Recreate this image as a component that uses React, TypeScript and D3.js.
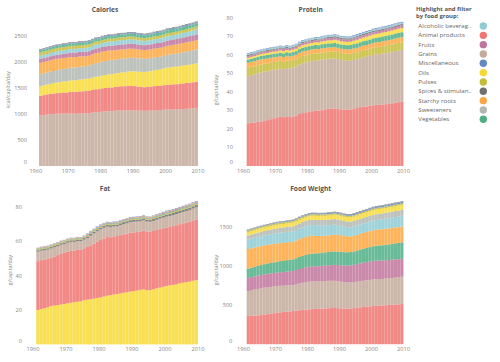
import * as d3 from "d3";

// years shown as bars
const years = [
  1961, 1962, 1963, 1964, 1965, 1966, 1967, 1968, 1969, 1970,
  1971, 1972, 1973, 1974, 1975, 1976, 1977, 1978, 1979, 1980,
  1981, 1982, 1983, 1984, 1985, 1986, 1987, 1988, 1989, 1990,
  1991, 1992, 1993, 1994, 1995, 1996, 1997, 1998, 1999, 2000,
  2001, 2002, 2003, 2004, 2005, 2006, 2007, 2008, 2009,
];
const xTicks = [1960, 1970, 1980, 1990, 2000, 2010];

const groups = [
  "Alcoholic beverages", "Animal products", "Fruits", "Grains", "Miscellaneous", "Oils",
  "Pulses", "Spices & stimulants", "Starchy roots", "Sweeteners", "Vegetables",
];
const legendLabels = [
  "Alcoholic beverag..", "Animal products", "Fruits", "Grains", "Miscellaneous", "Oils",
  "Pulses", "Spices & stimulan..", "Starchy roots", "Sweeteners", "Vegetables",
];
const groupColors = [
  "#8ecbd2", "#ef7672", "#c1749b", "#c4aa9c", "#6688c0", "#f7d936",
  "#c5bc3c", "#707070", "#fca741", "#b2b7b2", "#4fae84",
];

// ---- Calories (kcal/capita/day)
const calGrains = [
  975, 985, 995, 1000, 1005, 1010, 1008, 1012, 1010, 1015,
  1012, 1008, 1015, 1012, 1020, 1018, 1030, 1040, 1038, 1050,
  1055, 1062, 1060, 1068, 1072, 1075, 1072, 1078, 1075, 1072,
  1068, 1070, 1065, 1068, 1070, 1075, 1078, 1080, 1085, 1090,
  1088, 1092, 1090, 1098, 1100, 1105, 1108, 1115, 1122,
];
const calAnimal = [
  380, 383, 387, 390, 393, 398, 402, 406, 410, 415,
  418, 422, 425, 430, 433, 435, 438, 442, 446, 450,
  452, 455, 455, 458, 462, 465, 468, 470, 472, 470,
  465, 458, 455, 458, 462, 466, 468, 470, 475, 480,
  482, 485, 488, 490, 494, 497, 500, 502, 505,
];
const calOils = [
  185, 188, 192, 196, 200, 204, 208, 212, 216, 222,
  224, 226, 228, 230, 232, 236, 240, 242, 244, 246,
  250, 254, 258, 260, 262, 266, 270, 276, 280, 285,
  288, 290, 292, 296, 300, 305, 310, 315, 322, 330,
  335, 338, 340, 343, 346, 348, 350, 352, 355,
];
const calSweeteners = [
  230, 232, 230, 235, 236, 238, 240, 242, 244, 245,
  246, 248, 250, 246, 245, 252, 258, 262, 265, 268,
  270, 272, 270, 268, 268, 266, 265, 264, 262, 262,
  260, 258, 256, 255, 252, 250, 248, 246, 245, 245,
  246, 248, 250, 252, 255, 258, 262, 265, 268,
];
const calRoots = [
  222, 220, 218, 220, 222, 218, 215, 212, 210, 206,
  204, 200, 198, 196, 190, 188, 190, 192, 193, 193,
  190, 188, 186, 184, 182, 180, 178, 176, 175, 172,
  170, 168, 168, 168, 168, 170, 170, 172, 172, 174,
  175, 176, 178, 178, 180, 180, 180, 180, 182,
];
const calFruits = [
  75, 76, 77, 78, 79, 80, 81, 82, 83, 84,
  85, 85, 86, 86, 87, 88, 88, 89, 90, 90,
  91, 92, 92, 93, 94, 95, 96, 97, 97, 96,
  95, 95, 96, 97, 98, 99, 100, 101, 102, 103,
  104, 104, 105, 106, 107, 108, 108, 109, 110,
];
const calAlcohol = [
  60, 61, 62, 63, 64, 66, 67, 68, 69, 70,
  71, 72, 73, 74, 74, 75, 76, 77, 78, 79,
  80, 80, 81, 82, 83, 84, 84, 85, 85, 83,
  81, 80, 79, 80, 80, 81, 82, 82, 83, 84,
  85, 86, 87, 88, 89, 90, 91, 92, 93,
];
const calPulses = [
  65, 64, 64, 63, 63, 62, 62, 62, 61, 61,
  60, 60, 60, 59, 59, 58, 58, 58, 57, 57,
  57, 56, 56, 56, 56, 55, 55, 55, 55, 55,
  55, 55, 55, 55, 55, 55, 55, 55, 55, 55,
  55, 55, 55, 55, 55, 56, 56, 56, 56,
];
const calVeg = [
  40, 40, 41, 41, 42, 42, 43, 43, 44, 44,
  45, 45, 45, 46, 46, 47, 47, 48, 48, 49,
  49, 50, 50, 51, 51, 52, 52, 53, 53, 54,
  54, 55, 55, 56, 56, 57, 57, 58, 58, 59,
  59, 60, 60, 61, 61, 62, 62, 63, 63,
];
const calMisc = [
  15, 15, 15, 15, 15, 16, 16, 16, 16, 16,
  16, 16, 17, 17, 17, 17, 17, 17, 17, 18,
  18, 18, 18, 18, 18, 18, 18, 18, 19, 19,
  19, 19, 19, 19, 19, 19, 19, 19, 19, 20,
  20, 20, 20, 20, 20, 20, 20, 20, 20,
];
const calSpices = [
  12, 12, 12, 12, 12, 12, 12, 13, 13, 13,
  13, 13, 13, 13, 13, 13, 13, 14, 14, 14,
  14, 14, 14, 14, 14, 14, 14, 14, 14, 14,
  14, 14, 14, 14, 14, 15, 15, 15, 15, 15,
  15, 15, 15, 15, 16, 16, 16, 16, 16,
];

// ---- Protein (g/capita/day)
const protAnimal = [
  23.1, 23.3, 23.5, 23.8, 24.0, 24.4, 24.8, 25.3, 25.8, 26.3,
  26.5, 26.4, 26.6, 26.5, 26.7, 27.3, 28.1, 28.6, 29.0, 29.4,
  29.6, 29.8, 29.9, 30.2, 30.6, 30.8, 31.0, 31.1, 30.9, 30.6,
  30.5, 30.4, 30.6, 31.0, 31.4, 31.8, 32.0, 32.2, 32.5, 32.8,
  33.0, 33.1, 33.3, 33.4, 33.6, 33.9, 34.2, 34.5, 34.8,
];
const protGrains = [
  25.5, 25.8, 26.0, 26.3, 26.5, 26.6, 26.4, 26.3, 26.2, 26.0,
  26.1, 25.9, 26.3, 26.2, 26.5, 26.4, 26.7, 27.0, 26.9, 27.0,
  27.1, 27.3, 27.2, 27.3, 27.1, 27.2, 27.0, 27.1, 26.9, 26.7,
  26.6, 26.5, 26.4, 26.3, 26.3, 26.5, 26.7, 26.8, 27.0, 27.2,
  27.3, 27.4, 27.5, 27.6, 27.8, 27.8, 27.9, 27.9, 27.9,
];
const protPulses = [
  4.5, 4.5, 4.4, 4.4, 4.4, 4.3, 4.3, 4.3, 4.2, 4.2,
  4.2, 4.1, 4.1, 4.1, 4.0, 4.0, 4.0, 3.9, 3.9, 3.9,
  3.9, 3.8, 3.8, 3.8, 3.8, 3.8, 3.8, 3.8, 3.8, 3.8,
  3.8, 3.8, 3.8, 3.8, 3.8, 3.8, 3.9, 3.9, 3.9, 3.9,
  3.9, 3.9, 4.0, 4.0, 4.0, 4.0, 4.1, 4.1, 4.1,
];
const protRoots = [
  2.7, 2.7, 2.7, 2.7, 2.7, 2.6, 2.6, 2.6, 2.6, 2.5,
  2.5, 2.5, 2.5, 2.4, 2.4, 2.4, 2.4, 2.4, 2.4, 2.4,
  2.4, 2.4, 2.3, 2.3, 2.3, 2.3, 2.3, 2.3, 2.3, 2.3,
  2.3, 2.3, 2.3, 2.4, 2.4, 2.4, 2.5, 2.5, 2.5, 2.6,
  2.6, 2.6, 2.6, 2.7, 2.7, 2.7, 2.7, 2.8, 2.8,
];
const protVeg = [
  1.8, 1.8, 1.8, 1.8, 1.9, 1.9, 1.9, 1.9, 1.9, 1.9,
  2.0, 2.0, 2.0, 2.0, 2.0, 2.0, 2.0, 2.1, 2.1, 2.1,
  2.1, 2.1, 2.1, 2.2, 2.2, 2.2, 2.2, 2.2, 2.3, 2.3,
  2.3, 2.3, 2.3, 2.4, 2.4, 2.4, 2.4, 2.5, 2.5, 2.5,
  2.5, 2.6, 2.6, 2.6, 2.6, 2.7, 2.7, 2.7, 2.7,
];
const protOils = [
  0.9, 0.9, 1.0, 1.0, 1.0, 1.0, 1.1, 1.1, 1.1, 1.1,
  1.2, 1.2, 1.2, 1.2, 1.3, 1.3, 1.3, 1.3, 1.4, 1.4,
  1.4, 1.5, 1.5, 1.5, 1.6, 1.6, 1.6, 1.7, 1.7, 1.7,
  1.7, 1.8, 1.8, 1.8, 1.9, 1.9, 1.9, 2.0, 2.0, 2.0,
  2.1, 2.1, 2.1, 2.1, 2.2, 2.2, 2.2, 2.3, 2.3,
];
const protFruits = [
  0.9, 0.9, 0.9, 0.9, 0.9, 1.0, 1.0, 1.0, 1.0, 1.0,
  1.0, 1.0, 1.0, 1.0, 1.0, 1.1, 1.1, 1.1, 1.1, 1.1,
  1.1, 1.1, 1.1, 1.1, 1.2, 1.2, 1.2, 1.2, 1.2, 1.2,
  1.2, 1.2, 1.2, 1.2, 1.3, 1.3, 1.3, 1.3, 1.3, 1.3,
  1.3, 1.3, 1.4, 1.4, 1.4, 1.4, 1.4, 1.4, 1.4,
];
const protSpices = [
  0.6, 0.6, 0.6, 0.6, 0.6, 0.6, 0.6, 0.6, 0.6, 0.6,
  0.6, 0.6, 0.6, 0.6, 0.6, 0.6, 0.6, 0.6, 0.6, 0.6,
  0.6, 0.6, 0.6, 0.6, 0.6, 0.7, 0.7, 0.7, 0.7, 0.7,
  0.7, 0.7, 0.7, 0.7, 0.7, 0.7, 0.7, 0.7, 0.7, 0.7,
  0.7, 0.7, 0.7, 0.7, 0.7, 0.7, 0.7, 0.7, 0.7,
];
const protAlcohol = [
  0.6, 0.6, 0.6, 0.6, 0.6, 0.6, 0.6, 0.6, 0.6, 0.6,
  0.6, 0.6, 0.6, 0.6, 0.6, 0.6, 0.6, 0.6, 0.6, 0.6,
  0.7, 0.7, 0.7, 0.7, 0.7, 0.7, 0.7, 0.7, 0.7, 0.6,
  0.6, 0.6, 0.6, 0.6, 0.6, 0.6, 0.6, 0.6, 0.6, 0.7,
  0.7, 0.7, 0.7, 0.7, 0.7, 0.7, 0.7, 0.7, 0.7,
];
const protMisc = [
  0.4, 0.4, 0.4, 0.4, 0.4, 0.4, 0.4, 0.4, 0.4, 0.4,
  0.4, 0.4, 0.4, 0.4, 0.4, 0.4, 0.4, 0.4, 0.4, 0.4,
  0.4, 0.4, 0.4, 0.4, 0.4, 0.4, 0.4, 0.4, 0.4, 0.4,
  0.4, 0.4, 0.4, 0.5, 0.5, 0.5, 0.5, 0.5, 0.5, 0.5,
  0.5, 0.5, 0.5, 0.5, 0.5, 0.5, 0.5, 0.5, 0.5,
];

// ---- Fat (g/capita/day)
const fatOils = [
  20.0, 20.6, 21.0, 21.5, 22.3, 22.6, 22.9, 23.2, 23.5, 23.9,
  24.2, 24.5, 24.8, 25.0, 25.8, 26.0, 26.3, 26.6, 27.0, 27.3,
  27.8, 28.3, 28.7, 29.0, 29.3, 29.6, 30.0, 30.3, 30.7, 31.0,
  31.3, 31.7, 32.0, 31.5, 31.6, 32.0, 32.6, 33.0, 33.5, 34.0,
  34.3, 34.6, 35.0, 35.5, 35.9, 36.2, 36.5, 37.0, 37.4,
];
const fatAnimal = [
  28.4, 28.4, 28.3, 28.2, 28.1, 28.5, 29.0, 29.4, 29.7, 30.0,
  30.2, 30.0, 30.2, 30.0, 30.1, 30.6, 31.3, 32.0, 32.8, 33.4,
  33.8, 34.1, 33.6, 33.8, 33.7, 33.9, 34.0, 34.1, 34.2, 34.1,
  34.0, 33.9, 34.1, 34.0, 33.9, 33.9, 33.9, 34.0, 34.0, 34.0,
  34.1, 34.2, 34.3, 34.4, 34.5, 34.7, 34.9, 35.1, 35.3,
];
const fatGrains = [
  5.5, 5.5, 5.5, 5.4, 5.4, 5.4, 5.3, 5.3, 5.2, 5.2,
  5.2, 5.1, 5.1, 5.0, 5.0, 5.3, 5.6, 5.9, 6.0, 6.2,
  6.2, 6.1, 6.0, 5.8, 5.6, 5.8, 6.0, 6.1, 6.2, 6.2,
  6.1, 6.0, 6.0, 5.9, 5.8, 5.9, 6.0, 6.1, 6.2, 6.3,
  6.3, 6.4, 6.5, 6.5, 6.6, 6.7, 6.8, 6.9, 7.0,
];
const fatSpices = [
  0.8, 0.8, 0.8, 0.8, 0.8, 0.8, 0.8, 0.9, 0.9, 0.9,
  0.9, 0.9, 0.9, 0.9, 0.9, 0.9, 1.0, 1.0, 1.0, 1.0,
  1.0, 1.0, 1.0, 1.0, 1.1, 1.1, 1.1, 1.1, 1.1, 1.1,
  1.1, 1.1, 1.1, 1.1, 1.1, 1.2, 1.2, 1.2, 1.2, 1.2,
  1.2, 1.2, 1.2, 1.2, 1.3, 1.3, 1.3, 1.3, 1.3,
];
const fatPulses = [
  0.5, 0.5, 0.5, 0.5, 0.5, 0.5, 0.5, 0.5, 0.5, 0.5,
  0.5, 0.5, 0.5, 0.5, 0.5, 0.5, 0.5, 0.5, 0.5, 0.5,
  0.5, 0.5, 0.5, 0.5, 0.5, 0.5, 0.5, 0.5, 0.5, 0.5,
  0.5, 0.5, 0.5, 0.5, 0.5, 0.5, 0.5, 0.5, 0.5, 0.6,
  0.6, 0.6, 0.6, 0.6, 0.6, 0.6, 0.6, 0.6, 0.6,
];
const fatVeg = [
  0.3, 0.3, 0.3, 0.3, 0.3, 0.3, 0.3, 0.3, 0.3, 0.3,
  0.3, 0.3, 0.3, 0.3, 0.3, 0.3, 0.4, 0.4, 0.4, 0.4,
  0.4, 0.4, 0.4, 0.4, 0.4, 0.4, 0.4, 0.4, 0.4, 0.4,
  0.4, 0.4, 0.4, 0.4, 0.4, 0.4, 0.5, 0.5, 0.5, 0.5,
  0.5, 0.5, 0.5, 0.5, 0.5, 0.5, 0.5, 0.5, 0.5,
];
const fatFruits = [
  0.3, 0.3, 0.3, 0.3, 0.3, 0.3, 0.3, 0.3, 0.3, 0.3,
  0.3, 0.3, 0.3, 0.3, 0.3, 0.4, 0.4, 0.4, 0.4, 0.4,
  0.4, 0.4, 0.4, 0.4, 0.4, 0.4, 0.4, 0.4, 0.4, 0.4,
  0.4, 0.4, 0.4, 0.4, 0.4, 0.4, 0.4, 0.4, 0.5, 0.5,
  0.5, 0.5, 0.5, 0.5, 0.5, 0.5, 0.5, 0.5, 0.5,
];
const fatRoots = [
  0.2, 0.2, 0.2, 0.2, 0.2, 0.2, 0.2, 0.2, 0.2, 0.2,
  0.2, 0.2, 0.2, 0.2, 0.2, 0.2, 0.2, 0.2, 0.2, 0.2,
  0.2, 0.2, 0.2, 0.2, 0.2, 0.2, 0.2, 0.2, 0.2, 0.2,
  0.3, 0.3, 0.3, 0.3, 0.3, 0.3, 0.3, 0.3, 0.3, 0.3,
  0.3, 0.3, 0.3, 0.3, 0.3, 0.3, 0.3, 0.3, 0.3,
];
const fatMisc = [
  0.2, 0.2, 0.2, 0.2, 0.2, 0.2, 0.2, 0.2, 0.2, 0.2,
  0.2, 0.2, 0.2, 0.2, 0.2, 0.3, 0.3, 0.3, 0.3, 0.3,
  0.3, 0.3, 0.3, 0.3, 0.3, 0.3, 0.3, 0.3, 0.3, 0.3,
  0.3, 0.3, 0.3, 0.3, 0.3, 0.3, 0.3, 0.3, 0.4, 0.4,
  0.4, 0.4, 0.4, 0.4, 0.4, 0.4, 0.4, 0.4, 0.4,
];

// ---- Food weight (g/capita/day)
const fwAnimal = [
  359, 362, 365, 368, 372, 378, 384, 390, 396, 402,
  406, 410, 414, 418, 424, 428, 432, 436, 440, 445,
  448, 450, 451, 454, 457, 459, 461, 462, 460, 457,
  455, 454, 456, 460, 466, 470, 474, 478, 482, 487,
  490, 492, 494, 497, 500, 503, 506, 509, 512,
];
const fwGrains = [
  320, 326, 332, 337, 341, 343, 342, 341, 341, 341,
  340, 336, 338, 334, 331, 336, 342, 348, 350, 353,
  354, 352, 350, 351, 349, 350, 348, 347, 344, 341,
  338, 336, 334, 333, 332, 334, 336, 337, 338, 340,
  339, 340, 339, 340, 340, 342, 344, 346, 349,
];
const fwFruits = [
  168, 168, 169, 170, 170, 171, 172, 172, 171, 171,
  173, 174, 176, 178, 180, 183, 186, 188, 190, 191,
  192, 193, 194, 195, 196, 198, 200, 203, 206, 208,
  210, 213, 216, 220, 224, 228, 230, 232, 234, 236,
  236, 236, 235, 235, 234, 233, 232, 230, 228,
];
const fwVeg = [
  118, 120, 122, 124, 127, 129, 132, 134, 137, 139,
  141, 142, 144, 146, 148, 150, 153, 156, 158, 161,
  162, 164, 165, 167, 169, 170, 171, 172, 172, 172,
  171, 170, 170, 170, 172, 175, 178, 181, 184, 187,
  190, 192, 194, 196, 199, 201, 204, 207, 209,
];
const fwRoots = [
  249, 248, 246, 244, 242, 240, 238, 237, 235, 233,
  232, 230, 228, 226, 224, 225, 227, 228, 229, 230,
  228, 224, 220, 216, 212, 211, 212, 213, 213, 212,
  208, 204, 200, 199, 200, 201, 202, 203, 204, 205,
  205, 205, 205, 205, 205, 204, 203, 202, 202,
];
const fwAlcohol = [
  122, 123, 124, 125, 126, 127, 128, 129, 130, 131,
  132, 132, 133, 133, 134, 134, 135, 135, 136, 136,
  136, 135, 134, 133, 132, 131, 130, 128, 124, 120,
  117, 116, 116, 117, 118, 119, 120, 121, 122, 123,
  124, 126, 128, 129, 130, 132, 134, 136, 137,
];
const fwSweeteners = [
  52, 53, 54, 55, 56, 57, 58, 59, 60, 61,
  62, 63, 63, 64, 64, 65, 66, 67, 68, 68,
  69, 69, 70, 70, 70, 71, 71, 72, 72, 72,
  72, 72, 72, 72, 72, 72, 73, 73, 73, 73,
  74, 74, 74, 75, 75, 75, 76, 76, 76,
];
const fwOils = [
  40, 41, 41, 42, 42, 43, 43, 44, 44, 45,
  45, 46, 46, 47, 47, 48, 48, 49, 49, 50,
  50, 51, 51, 52, 52, 53, 53, 54, 54, 55,
  55, 55, 56, 56, 57, 57, 58, 58, 59, 59,
  60, 60, 61, 61, 62, 62, 63, 63, 64,
];
const fwPulses = [
  22, 22, 22, 22, 21, 21, 21, 21, 21, 21,
  20, 20, 20, 20, 20, 20, 19, 19, 19, 19,
  19, 19, 19, 18, 18, 18, 18, 18, 18, 18,
  18, 18, 18, 18, 18, 18, 18, 18, 18, 18,
  18, 18, 18, 18, 18, 18, 18, 18, 18,
];
const fwMisc = [
  8, 8, 8, 9, 9, 9, 9, 10, 10, 10,
  10, 10, 11, 11, 11, 11, 12, 12, 12, 12,
  13, 13, 13, 13, 14, 14, 14, 14, 15, 15,
  15, 15, 15, 16, 16, 16, 16, 16, 17, 17,
  17, 17, 17, 17, 18, 18, 18, 18, 18,
];
const fwSpices = [
  6, 6, 6, 6, 6, 6, 6, 6, 7, 7,
  7, 7, 7, 7, 7, 7, 7, 7, 8, 8,
  8, 8, 8, 8, 8, 8, 8, 8, 8, 8,
  8, 8, 9, 9, 9, 9, 9, 9, 9, 9,
  9, 9, 9, 10, 10, 10, 10, 10, 10,
];

const calTicks = [0, 500, 1000, 1500, 2000, 2500];
const protTicks = [0, 10, 20, 30, 40, 50, 60, 70, 80];
const fatTicks = [0, 20, 40, 60, 80];
const fwTicks = [0, 500, 1000, 1500];

const FONT = "'Open Sans', 'DejaVu Sans', sans-serif";

const panels = [
  {
    title: "Calories", unit: "kcal/capita/day", ticks: calTicks, yMax: 2857,
    xRange: [35.8, 198], yRange: [166, 18], titleX: 105, titleY: 11.5,
    tickRight: 27, unitX: 8, unitY: 90, xLabelY: 173,
    series: [
      ["Grains", calGrains], ["Animal products", calAnimal], ["Oils", calOils],
      ["Sweeteners", calSweeteners], ["Starchy roots", calRoots], ["Fruits", calFruits],
      ["Alcoholic beverages", calAlcohol], ["Pulses", calPulses], ["Vegetables", calVeg],
      ["Miscellaneous", calMisc], ["Spices & stimulants", calSpices],
    ],
  },
  {
    title: "Protein", unit: "g/capita/day", ticks: protTicks, yMax: 80,
    xRange: [243.5, 403.5], yRange: [166, 18], titleX: 310.7, titleY: 11.5,
    tickRight: 233, unitX: 216, unitY: 90, xLabelY: 173,
    series: [
      ["Animal products", protAnimal], ["Grains", protGrains], ["Pulses", protPulses],
      ["Starchy roots", protRoots], ["Vegetables", protVeg], ["Oils", protOils],
      ["Fruits", protFruits], ["Spices & stimulants", protSpices],
      ["Alcoholic beverages", protAlcohol], ["Miscellaneous", protMisc],
    ],
  },
  {
    title: "Fat", unit: "g/capita/day", ticks: fatTicks, yMax: 80,
    xRange: [33, 198], yRange: [344.4, 206.8], titleX: 105, titleY: 190.5,
    tickRight: 22, unitX: 10, unitY: 270, xLabelY: 350.5,
    series: [
      ["Oils", fatOils], ["Animal products", fatAnimal], ["Grains", fatGrains],
      ["Spices & stimulants", fatSpices], ["Pulses", fatPulses], ["Vegetables", fatVeg],
      ["Fruits", fatFruits], ["Starchy roots", fatRoots], ["Miscellaneous", fatMisc],
    ],
  },
  {
    title: "Food Weight", unit: "g/capita/day", ticks: fwTicks, yMax: 1753,
    xRange: [243.5, 403.5], yRange: [344.2, 206.8], titleX: 310.7, titleY: 190.5,
    tickRight: 232.3, unitX: 216, unitY: 270, xLabelY: 350.5,
    series: [
      ["Animal products", fwAnimal], ["Grains", fwGrains], ["Fruits", fwFruits],
      ["Vegetables", fwVeg], ["Starchy roots", fwRoots], ["Alcoholic beverages", fwAlcohol],
      ["Sweeteners", fwSweeteners], ["Oils", fwOils], ["Pulses", fwPulses],
      ["Miscellaneous", fwMisc], ["Spices & stimulants", fwSpices],
    ],
  },
];

const color = d3.scaleOrdinal<string, string>().domain(groups).range(groupColors);

const Panel = ({ p }: { p: any }) => {
  const x = d3.scaleLinear().domain([1960, 2010]).range(p.xRange);
  const y = d3.scaleLinear().domain([0, p.yMax]).range(p.yRange);
  const keys = p.series.map((s: any) => s[0]);
  const rows = years.map((yr, i) => {
    const r: any = { year: yr };
    p.series.forEach((s: any) => (r[s[0]] = s[1][i]));
    return r;
  });
  const layers = d3.stack<any>().keys(keys)(rows);

  return (
    <g>
      <text x={p.titleX} y={p.titleY} textAnchor="middle" fontSize={6.6} fontWeight="bold" fill="#555">
        {p.title}
      </text>
      <text
        transform={`translate(${p.unitX},${p.unitY}) rotate(-90)`}
        textAnchor="middle"
        dy="0.35em"
        fontSize={5.3}
        fill="#888"
      >
        {p.unit}
      </text>
      {p.ticks.map((t: number) => (
        <text
          key={t}
          x={p.tickRight}
          y={y(t) - (t === 0 ? 3.5 : 0)}
          dy="0.35em"
          textAnchor="end"
          fontSize={5.6}
          fill="#888"
        >
          {t}
        </text>
      ))}
      {xTicks.map((t) => (
        <text key={t} x={x(t)} y={p.xLabelY} textAnchor="middle" fontSize={5.6} fill="#888">
          {t}
        </text>
      ))}
      {layers.map((layer) => (
        <g key={layer.key} fill={color(layer.key)} fillOpacity={0.85}>
          {layer.map((d: any) => (
            <rect
              key={d.data.year}
              x={x(d.data.year)}
              width={x(d.data.year + 1) - x(d.data.year) - 0.05}
              y={y(d[1])}
              height={Math.max(0, y(d[0]) - y(d[1]))}
            />
          ))}
        </g>
      ))}
    </g>
  );
};

export default function App() {
  return (
    <svg
      width={500}
      height={362}
      style={{ position: "absolute", left: 0, top: 0, background: "#fff" }}
      fontFamily={FONT}
    >
      {panels.map((p) => (
        <Panel key={p.title} p={p} />
      ))}
      <g>
        <text x={416} y={10.5} fontSize={5.9} fontWeight="bold" fill="#555">
          Highlight and filter
        </text>
        <text x={416} y={18} fontSize={5.9} fontWeight="bold" fill="#555">
          by food group:
        </text>
        {groups.map((g, i) => (
          <g key={g} transform={`translate(0,${26 + i * 9.33})`}>
            <text x={418.3} dy="0.35em" fontSize={6.1} fill="#666">
              {legendLabels[i]}
            </text>
            <circle cx={483.3} cy={0} r={3.7} fill={groupColors[i]} />
          </g>
        ))}
      </g>
    </svg>
  );
}
